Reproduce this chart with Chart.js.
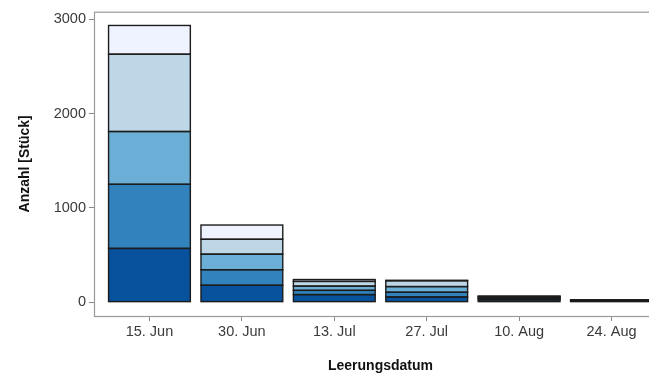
<!DOCTYPE html>
<html>
<head>
<meta charset="utf-8">
<script src="https://cdn.jsdelivr.net/npm/chart.js@4/dist/chart.umd.min.js"></script>
<style>
  html, body { margin: 0; padding: 0; background: #ffffff; overflow: hidden; }
  #wrap { width: 667px; height: 375px; }
</style>
</head>
<body>
<div id="wrap"><canvas id="chart" width="667" height="375"></canvas></div>
<script>
// Emptying dates (x categories)
const dates = ['15. Jun', '30. Jun', '13. Jul', '27. Jul', '10. Aug', '24. Aug'];

// Counts per stack layer, bottom (darkest) to top (lightest)
const stufe1 = [570, 179, 80, 55, 25, 10];
const stufe2 = [680, 165, 45, 50, 15, 6];
const stufe3 = [560, 165, 45, 60, 12, 4];
const stufe4 = [820, 158, 50, 62, 8, 3];
const stufe5 = [305, 151, 20, 5, 5, 2];

// Value axis ticks
const yTicks = [0, 1000, 2000, 3000];

const layers = [stufe1, stufe2, stufe3, stufe4, stufe5];
const fills = ['#08519c', '#3182bd', '#6baed6', '#bdd7e7', '#eff3ff'];

const datasets = layers.map((vals, k) => ({
  label: 'Stufe ' + (k + 1),
  data: vals.map((v, i) => ({ x: i, y: v })),
  backgroundColor: fills[k],
  borderWidth: 0,
  categoryPercentage: 1,
  barPercentage: 0.885
}));

// Outline every bar segment with a stroke centred on its edges
const segmentOutline = {
  id: 'segmentOutline',
  afterDatasetsDraw(chart) {
    const { ctx } = chart;
    ctx.save();
    ctx.strokeStyle = '#1c1c1c';
    ctx.lineWidth = 1.4;
    chart.data.datasets.forEach((_, di) => {
      const meta = chart.getDatasetMeta(di);
      meta.data.forEach(el => {
        const { x, y, base, width } = el.getProps(['x', 'y', 'base', 'width'], true);
        const top = Math.min(y, base);
        ctx.strokeRect(x - width / 2, top, width, Math.abs(base - y));
      });
    });
    ctx.restore();
  }
};

// Panel frame drawn over the plot area
const panelFrame = {
  id: 'panelFrame',
  afterDraw(chart) {
    const { ctx, chartArea: a } = chart;
    ctx.save();
    ctx.strokeStyle = '#9a9a9a';
    ctx.lineWidth = 1.2;
    ctx.strokeRect(a.left + 0.5, a.top + 0.5, a.right - a.left - 1, a.bottom - a.top);
    ctx.restore();
  }
};

Chart.defaults.font.family = "'Liberation Sans', Arial, sans-serif";
Chart.defaults.font.size = 14;

new Chart(document.getElementById('chart'), {
  type: 'bar',
  data: { datasets },
  plugins: [segmentOutline, panelFrame],
  options: {
    responsive: false,
    animation: false,
    devicePixelRatio: 1,
    layout: { padding: { top: 10, left: 0, right: 0, bottom: 0 } },
    plugins: { legend: { display: false }, tooltip: { enabled: false } },
    scales: {
      x: {
        type: 'linear',
        stacked: true,
        offset: false,
        min: -0.6,
        max: 5.6,
        afterBuildTicks: s => { s.ticks = dates.map((_, i) => ({ value: i })); },
        afterFit: s => { s.height = 59; },
        border: { display: false },
        grid: { offset: false, drawOnChartArea: false, drawTicks: true, tickLength: 5, color: '#8a8a8a', lineWidth: 1 },
        ticks: {
          autoSkip: false,
          maxRotation: 0,
          padding: 2,
          color: '#3a3a3a',
          font: { size: 14.5 },
          callback: v => dates[v] ?? ''
        },
        title: {
          display: true,
          text: 'Leerungsdatum',
          color: '#111111',
          font: { size: 14, weight: 'bold' },
          padding: { top: 0, bottom: 0 }
        }
      },
      y: {
        stacked: true,
        min: -147,
        max: 3081,
        afterBuildTicks: s => { s.ticks = yTicks.map(v => ({ value: v })); },
        afterFit: s => { s.width = 94; },
        border: { display: false },
        grid: { drawOnChartArea: false, drawTicks: true, tickLength: 5, color: '#8a8a8a', lineWidth: 1 },
        ticks: {
          padding: 3,
          color: '#3a3a3a',
          font: { size: 14.5 },
          callback: v => String(v)
        },
        title: {
          display: true,
          text: 'Anzahl [Stück]',
          color: '#111111',
          font: { size: 14, weight: 'bold' },
          padding: { top: 17, bottom: 0 }
        }
      }
    }
  }
});
</script>
</body>
</html>
